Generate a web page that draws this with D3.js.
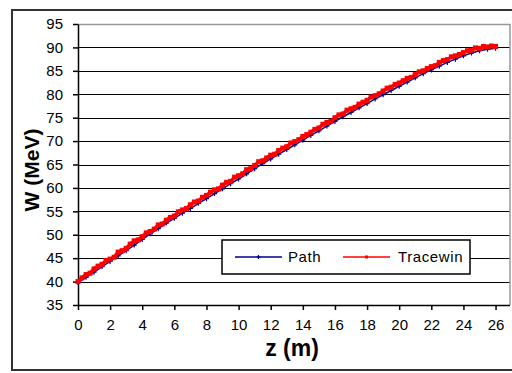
<!DOCTYPE html>
<html><head><meta charset="utf-8">
<script src="https://cdn.jsdelivr.net/npm/d3@7"></script>
<style>
html,body{margin:0;padding:0;background:#fff;}
svg{display:block;}
text{font-family:"Liberation Sans",Arial,sans-serif;fill:#000;}
</style></head>
<body>
<div id="chart"></div>
<script>
const pathZ = [0,0.5,1,1.5,2,2.5,3,3.5,4,4.5,5,5.5,6,6.5,7,7.5,8,8.5,9,9.5,10,10.5,11,11.5,12,12.5,13,13.5,14,14.5,15,15.5,16,16.5,17,17.5,18,18.5,19,19.5,20,20.5,21,21.5,22,22.5,23,23.5,24,24.5,25,25.5,26];
const pathW = [39.8,40.9,42.0,43.2,44.3,45.5,46.6,47.8,49.0,50.2,51.3,52.5,53.5,54.6,55.6,56.7,57.7,58.8,59.8,60.9,61.9,63.0,64.1,65.2,66.2,67.2,68.2,69.2,70.2,71.2,72.2,73.2,74.2,75.2,76.1,77.1,78.0,79.0,79.9,80.8,81.7,82.6,83.5,84.4,85.2,86.0,86.8,87.5,88.2,88.8,89.3,89.6,89.8];
const tracewinZ = [0,0.25,0.5,0.75,1,1.25,1.5,1.75,2,2.25,2.5,2.75,3,3.25,3.5,3.75,4,4.25,4.5,4.75,5,5.25,5.5,5.75,6,6.25,6.5,6.75,7,7.25,7.5,7.75,8,8.25,8.5,8.75,9,9.25,9.5,9.75,10,10.25,10.5,10.75,11,11.25,11.5,11.75,12,12.25,12.5,12.75,13,13.25,13.5,13.75,14,14.25,14.5,14.75,15,15.25,15.5,15.75,16,16.25,16.5,16.75,17,17.25,17.5,17.75,18,18.25,18.5,18.75,19,19.25,19.5,19.75,20,20.25,20.5,20.75,21,21.25,21.5,21.75,22,22.25,22.5,22.75,23,23.25,23.5,23.75,24,24.25,24.5,24.75,25,25.25,25.5,25.75,26];
const tracewinW = [40.0,40.8,41.5,41.8,42.7,43.3,43.7,44.5,44.8,45.2,46.3,46.6,47.1,48.0,48.7,48.9,49.6,50.4,50.7,51.2,52.1,52.3,53.1,53.7,54.0,54.9,55.3,55.6,56.4,57.0,57.2,58.0,58.4,59.1,59.6,59.8,60.6,61.2,61.4,62.3,62.6,63.0,63.9,64.1,64.8,65.6,65.8,66.4,67.0,67.2,68.0,68.5,68.8,69.6,69.9,70.3,71.0,71.4,71.9,72.5,72.8,73.6,74.0,74.2,75.0,75.6,75.8,76.6,76.9,77.2,77.9,78.3,78.7,79.4,79.7,80.1,80.7,81.3,81.5,82.1,82.4,82.9,83.4,83.6,84.2,84.8,85.0,85.5,85.9,86.1,86.8,87.2,87.4,88.0,88.2,88.5,88.9,89.3,89.4,89.9,89.8,90.2,90.1,90.3,90.2];
const xTicks = [0,2,4,6,8,10,12,14,16,18,20,22,24,26];
const yTicks = [35,40,45,50,55,60,65,70,75,80,85,90,95];
const seriesNames = ["Path","Tracewin"];
const seriesColors = ["#00008b","#ff0000"];

const W = 512, H = 373;
const svg = d3.select("#chart").append("svg").attr("width", W).attr("height", H);

// outer frame
svg.append("rect").attr("x",12).attr("y",10).attr("width",520).attr("height",360)
  .attr("fill","#fff").attr("stroke","#333").attr("stroke-width",2);

const x = d3.scaleLinear().domain([0, 26.9]).range([78, 510]);
const y = d3.scaleLinear().domain([35, 95]).range([305, 24]);

// gridlines
svg.append("g").selectAll("line").data(yTicks.filter(v => v > 35 && v < 95)).join("line")
  .attr("x1", x(0)).attr("x2", x(26.9))
  .attr("y1", d => Math.round(y(d)) + 0.5).attr("y2", d => Math.round(y(d)) + 0.5)
  .attr("stroke", "#000").attr("stroke-width", 1.2);

// plot border (top & right, gray)
svg.append("path")
  .attr("d", `M${x(0)},${Math.round(y(95))+0.5}H${x(26.9)}V${y(35)}`)
  .attr("fill","none").attr("stroke","#999").attr("stroke-width",1.5);

// axes
const yAxis = svg.append("g").attr("transform", `translate(${x(0)},0)`)
  .call(d3.axisLeft(y).tickValues(yTicks).tickSize(5).tickSizeOuter(0).tickPadding(10));
const xAxis = svg.append("g").attr("transform", `translate(0,${y(35)})`)
  .call(d3.axisBottom(x).tickValues(xTicks).tickSize(5).tickSizeOuter(0).tickPadding(9));
[yAxis, xAxis].forEach(g => {
  g.select(".domain").attr("stroke","#000").attr("stroke-width",1.5);
  g.selectAll(".tick line").attr("stroke","#000").attr("stroke-width",1.5);
  g.selectAll(".tick text").attr("font-size","15px").attr("font-family","Liberation Sans, Arial, sans-serif").attr("fill","#000");
});
xAxis.select(".domain").attr("d", `M${x(0)},0.5H${x(26.9)}`);

// series
const line = d3.line().x(d => x(d[0])).y(d => y(d[1]));
const pathData = pathZ.map((z, i) => [z, pathW[i]]);
const traceData = tracewinZ.map((z, i) => [z, tracewinW[i]]);

svg.append("path").datum(pathData).attr("d", line).attr("fill","none")
  .attr("stroke", seriesColors[0]).attr("stroke-width", 1.5);
svg.append("g").selectAll("path").data(pathData).join("path")
  .attr("d", d => `M${x(d[0])-2.5},${y(d[1])}h5M${x(d[0])},${y(d[1])-2.5}v5`)
  .attr("stroke", seriesColors[0]).attr("stroke-width", 1.2);

svg.append("path").datum(traceData).attr("d", line).attr("fill","none")
  .attr("stroke", seriesColors[1]).attr("stroke-width", 3.5);
svg.append("g").selectAll("rect").data(traceData).join("rect")
  .attr("x", d => x(d[0]) - 2.5).attr("y", d => y(d[1]) - 2.5)
  .attr("width", 5).attr("height", 5).attr("fill", seriesColors[1]);

// axis titles
svg.append("text").attr("x", 292).attr("y", 356).attr("text-anchor","middle")
  .attr("font-size","23px").attr("font-weight","bold").text("z (m)");
svg.append("text").attr("transform","translate(39,170) rotate(-90)").attr("text-anchor","middle")
  .attr("font-size","21px").attr("font-weight","bold").text("W (MeV)");

// legend
const lg = svg.append("g");
lg.append("rect").attr("x",222).attr("y",240).attr("width",248).attr("height",34)
  .attr("fill","#fff").attr("stroke","#000").attr("stroke-width",1.5);
const items = [{x1:235,x2:282,tx:288},{x1:343,x2:390,tx:398}];
items.forEach((it, i) => {
  lg.append("line").attr("x1",it.x1).attr("x2",it.x2).attr("y1",257).attr("y2",257)
    .attr("stroke",seriesColors[i]).attr("stroke-width",1.5);
  const cx = (it.x1 + it.x2) / 2;
  if (i === 0) {
    lg.append("path").attr("d",`M${cx-2},257h4M${cx},255v4`).attr("stroke",seriesColors[0]).attr("stroke-width",1.2);
  } else {
    lg.append("rect").attr("x",cx-1.5).attr("y",255.5).attr("width",3).attr("height",3).attr("fill",seriesColors[1]);
  }
  lg.append("text").attr("x",it.tx).attr("y",262).attr("font-size","15px")
    .attr("letter-spacing","0.6px").text(seriesNames[i]);
});
</script>
</body></html>
